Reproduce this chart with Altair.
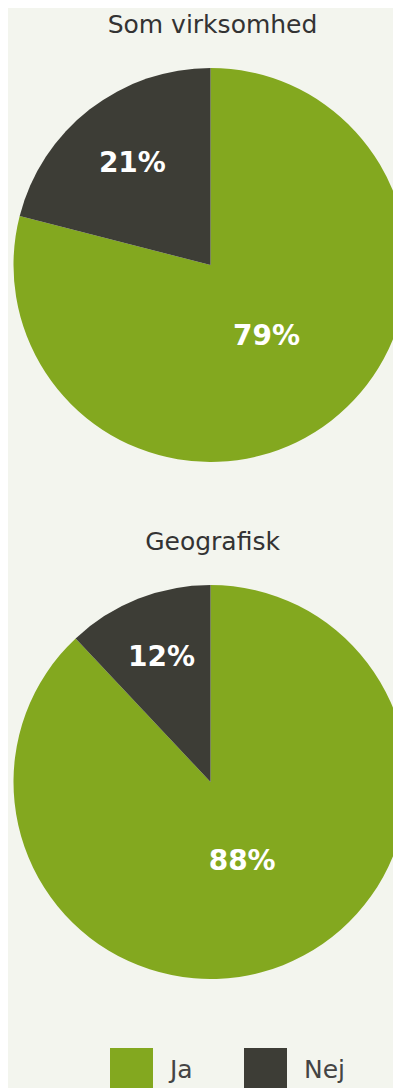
import altair as alt
import pandas as pd

groups = ["Som virksomhed", "Geografisk"]
categories = ["Ja", "Nej"]
som_values = [79, 21]
geo_values = [88, 12]

rows = []
for g, vals in zip(groups, [som_values, geo_values]):
    for c, v in zip(categories, vals):
        rows.append({"group": g, "answer": c, "value": v, "label": f"{v}%"})
df = pd.DataFrame(rows)

GREEN = "#83a81f"
DARK = "#3d3d36"
BG = "#f3f5ee"
FONT = "DejaVu Sans"

color = alt.Color(
    "answer:N",
    scale=alt.Scale(domain=categories, range=[GREEN, DARK]),
    legend=alt.Legend(
        title=None, orient="none", direction="horizontal",
        legendX=102, legendY=980,
        symbolType="square", symbolSize=1849, symbolStrokeWidth=0,
        labelFontSize=25, labelFont=FONT, labelColor="#444444",
        columnPadding=51, labelOffset=17,
    ),
)

theta = alt.Theta("value:Q", stack=True)
order = alt.Order("answer:N", sort="ascending")


def pie(group):
    arc = alt.Chart().mark_arc(radius=197, strokeWidth=0, xOffset=10, clip=True).encode(
        theta=theta, color=color, order=order
    )
    text = alt.Chart().mark_text(
        fontSize=28, fontWeight="bold", color="white", font=FONT, xOffset=10
    ).encode(
        theta=theta,
        order=order,
        radius=alt.Radius(
            "value:Q", scale=alt.Scale(type="linear", zero=False, domain=[12, 88], range=[133, 86])
        ),
        text="label:N",
    )
    return alt.layer(arc, text, data=df).transform_filter(
        alt.datum.group == group
    ).properties(
        width=385, height=394,
        title=alt.Title(
            group, fontSize=25, font=FONT, fontWeight="normal", color="#333333",
            anchor="middle", dx=12, baseline="alphabetic", offset=10,
        ),
    )


chart = alt.vconcat(pie(groups[0]), pie(groups[1]), spacing=68).properties(
    padding={"left": 0, "top": 5, "right": 0, "bottom": 0}, background=BG
).configure_view(stroke=None)

chart.save("out.html", embed_options={"renderer": "svg", "actions": False})
